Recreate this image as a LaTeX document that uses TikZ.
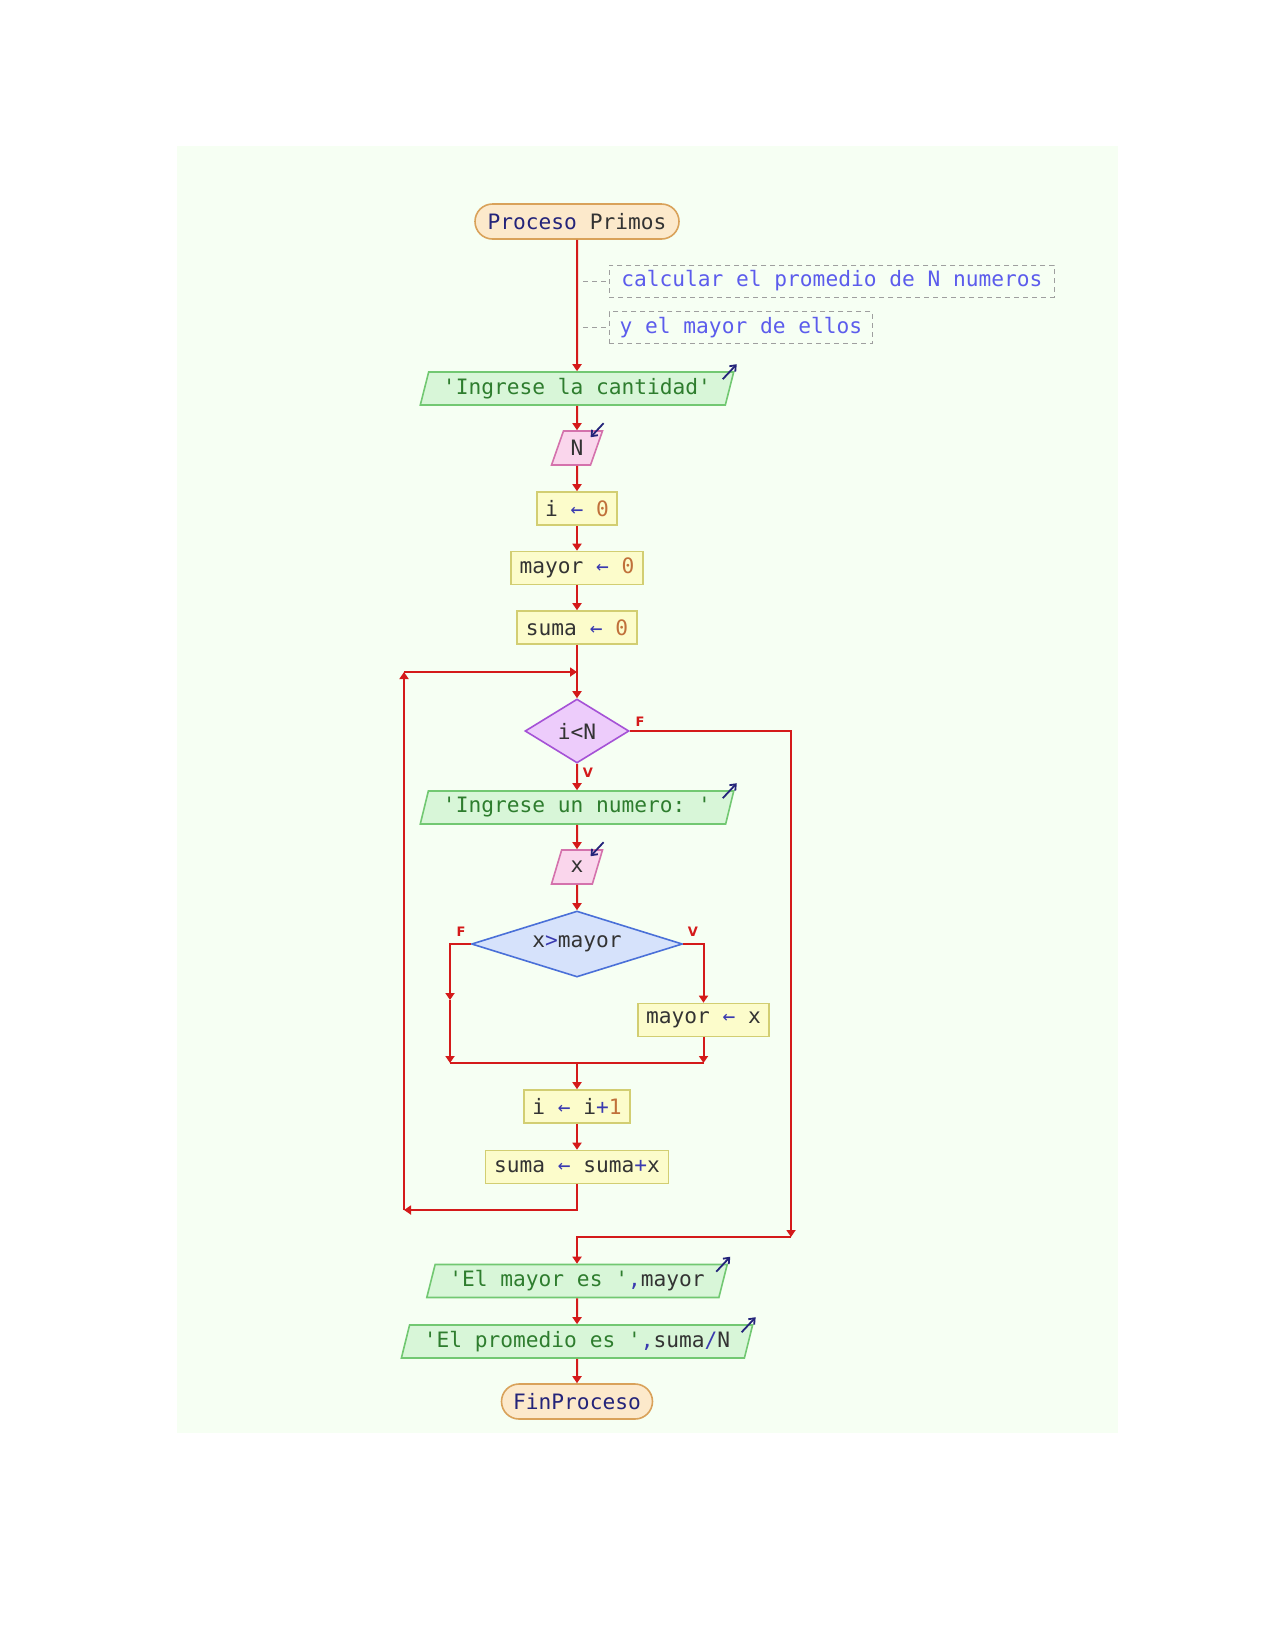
\documentclass[tikz,border=0pt]{standalone}
\usepackage{fontspec}
\setmonofont{DejaVu Sans Mono}
\setsansfont{DejaVu Sans}
\usetikzlibrary{shapes.geometric,shapes.misc,arrows.meta}
\definecolor{bgcol}{HTML}{F6FFF3}
\definecolor{linered}{HTML}{D41A1A}
\definecolor{kwcol}{HTML}{24247A}
\definecolor{strcol}{HTML}{2E7D2E}
\definecolor{opcol}{HTML}{3A3AB0}
\definecolor{numcol}{HTML}{C0703A}
\definecolor{txtcol}{HTML}{333333}
\definecolor{cmtcol}{HTML}{5C5CEC}
\definecolor{sefill}{HTML}{FCE9CB}
\definecolor{sedraw}{HTML}{D9A25A}
\definecolor{outfill}{HTML}{D8F6D8}
\definecolor{outdraw}{HTML}{72C872}
\definecolor{infill}{HTML}{FAD6EC}
\definecolor{indraw}{HTML}{D472AC}
\definecolor{asgfill}{HTML}{FCFCCB}
\definecolor{asgdraw}{HTML}{D2CE72}
\definecolor{ltfill}{HTML}{EDCCFB}
\definecolor{ltdraw}{HTML}{A552D6}
\definecolor{gtfill}{HTML}{D6E2FB}
\definecolor{gtdraw}{HTML}{4A70D8}
\newcommand\kw[1]{\textcolor{kwcol}{#1}}
\newcommand\str[1]{\textcolor{strcol}{#1}}
\newcommand\op[1]{\textcolor{opcol}{#1}}
\newcommand\num[1]{\textcolor{numcol}{#1}}
\newcommand\asg{\op{←}}
\begin{document}
\begin{tikzpicture}
  [x=0.5pt,y=-0.5pt,
   every node/.style={font=\ttfamily\fontsize{10.6}{12}\selectfont,text=txtcol,inner sep=0pt},
   startend/.style={rounded rectangle,draw=sedraw,fill=sefill,line width=0.8pt,minimum height=17.5pt},
   outbox/.style={trapezium,trapezium left angle=70,trapezium right angle=110,trapezium stretches=true,
     draw=outdraw,fill=outfill,line width=0.8pt,minimum height=16.5pt},
   inbox/.style={trapezium,trapezium left angle=70,trapezium right angle=110,trapezium stretches=true,
     draw=indraw,fill=infill,line width=0.8pt,minimum height=17pt,minimum width=25.5pt},
   assign/.style={rectangle,draw=asgdraw,fill=asgfill,line width=0.8pt,minimum height=16.5pt},
   cond/.style={diamond,aspect=2,line width=0.8pt},
   cmt/.style={rectangle,draw=gray!75,dash pattern=on 2.5pt off 2pt,text=cmtcol,minimum height=16pt,inner xsep=4pt,anchor=west},
   lbl/.style={font=\sffamily\bfseries\fontsize{6.5}{7}\selectfont,text=linered},
   flow/.style={draw=linered,line width=1pt,-{Triangle[length=3.5pt,width=4.5pt]}},
   seg/.style={draw=linered,line width=1pt},
   ioarrow/.style={draw=kwcol,line width=0.9pt,-{Straight Barb[length=2.5pt,width=4pt]}}]
  \useasboundingbox (0,0) rectangle (1275,1650);
  \fill[bgcol] (177,146) rectangle (1118,1433);

  \node[startend,minimum width=102pt] (start) at (577,221.5) {\kw{Proceso} Primos};
  \node[cmt,minimum width=222.5pt] (c1) at (609,281) {calcular el promedio de N numeros};
  \node[cmt,minimum width=131.5pt] (c2) at (609,327.5) {y el mayor de ellos};
  \node[outbox,minimum width=157pt] (out1) at (577,388.5) {\str{'Ingrese la cantidad'}};
  \node[inbox] (in1) at (577,448) {N};
  \node[assign,minimum width=40pt] (a1) at (577,508.5) {i \asg{} \num{0}};
  \node[assign,minimum width=66pt] (a2) at (577,568) {mayor \asg{} \num{0}};
  \node[assign,minimum width=60pt] (a3) at (577,627.5) {suma \asg{} \num{0}};
  \node[cond,draw=ltdraw,fill=ltfill,minimum width=52pt,minimum height=32pt] (d1) at (577,731) {i<N};
  \node[outbox,minimum width=157pt] (out2) at (577,807.5) {\str{'Ingrese un numero: '}};
  \node[inbox] (in2) at (577,867) {x};
  \node[cond,draw=gtdraw,fill=gtfill,minimum width=105.5pt,minimum height=33pt] (d2) at (577,944) {x\op{>}mayor};
  \node[assign,minimum width=65.5pt] (a4) at (703.5,1020) {mayor \asg{} x};
  \node[assign,minimum width=53pt] (a5) at (577,1106.5) {i \asg{} i\op{+}\num{1}};
  \node[assign,minimum width=91.5pt] (a6) at (577,1167) {suma \asg{} suma\op{+}x};
  \node[outbox,minimum width=150.5pt] (out3) at (577,1281) {\str{'El mayor es '}\op{,}mayor};
  \node[outbox,minimum width=176pt] (out4) at (577,1341.5) {\str{'El promedio es '}\op{,}suma\op{/}N};
  \node[startend,minimum width=75.5pt] (fin) at (577,1401.5) {\kw{FinProceso}};

  \node[lbl] (f1) at (640,722) {F};
  \node[lbl] (v1) at (588,773) {V};
  \node[lbl] (f2) at (461,932) {F};
  \node[lbl] (v2) at (693,932) {V};

  % comments
  \coordinate (k1) at (583,281);
  \coordinate (k2) at (583,327.5);
  \draw[gray!75,dash pattern=on 2.5pt off 2pt] (k1) -- (c1.west) (k2) -- (c2.west);

  % straight connectors
  \foreach \from/\to in {start/out1,out1/in1,in1/a1,a1/a2,a2/a3,a3/d1,d1/out2,out2/in2,in2/d2,a5/a6,out3/out4,out4/fin}
    \draw[flow] (\from) -- (\to);

  % x>mayor branches
  \coordinate (l1) at (450,1000);
  \coordinate (l2) at (450,1063);
  \coordinate (r2) at (703.5,1063);
  \coordinate (m1) at (577,1063);
  \draw[flow] (d2.west) -| (l1);
  \draw[flow] (l1) -- (l2);
  \draw[flow] (d2.east) -| (a4.north);
  \draw[flow] (a4.south) -- (r2);
  \draw[seg] (l2) -- (r2);
  \draw[flow] (m1) -- (a5.north);

  % loop back
  \coordinate (b1) at (577,1210);
  \coordinate (b2) at (404,1210);
  \coordinate (b3) at (404,672);
  \coordinate (b4) at (577,672);
  \draw[flow] (a6.south) -- (b1) -- (b2);
  \draw[flow] (b2) -- (b3);
  \draw[flow] (b3) -- (b4);

  % exit
  \coordinate (e1) at (791,731);
  \coordinate (e2) at (791,1237);
  \draw[flow] (d1.east) -- (e1) -- (e2);
  \draw[flow] (e2) -| (out3.north);

  % io marks
  \foreach \n in {out1,out2,out3,out4}
    \draw[ioarrow] ([shift={(-12,8)}]\n.top right corner) -- ([shift={(2,-7)}]\n.top right corner);
  \foreach \n in {in1,in2}
    \draw[ioarrow] ([shift={(0,-7)}]\n.top right corner) -- ([shift={(-13,7)}]\n.top right corner);
\end{tikzpicture}
\end{document}
